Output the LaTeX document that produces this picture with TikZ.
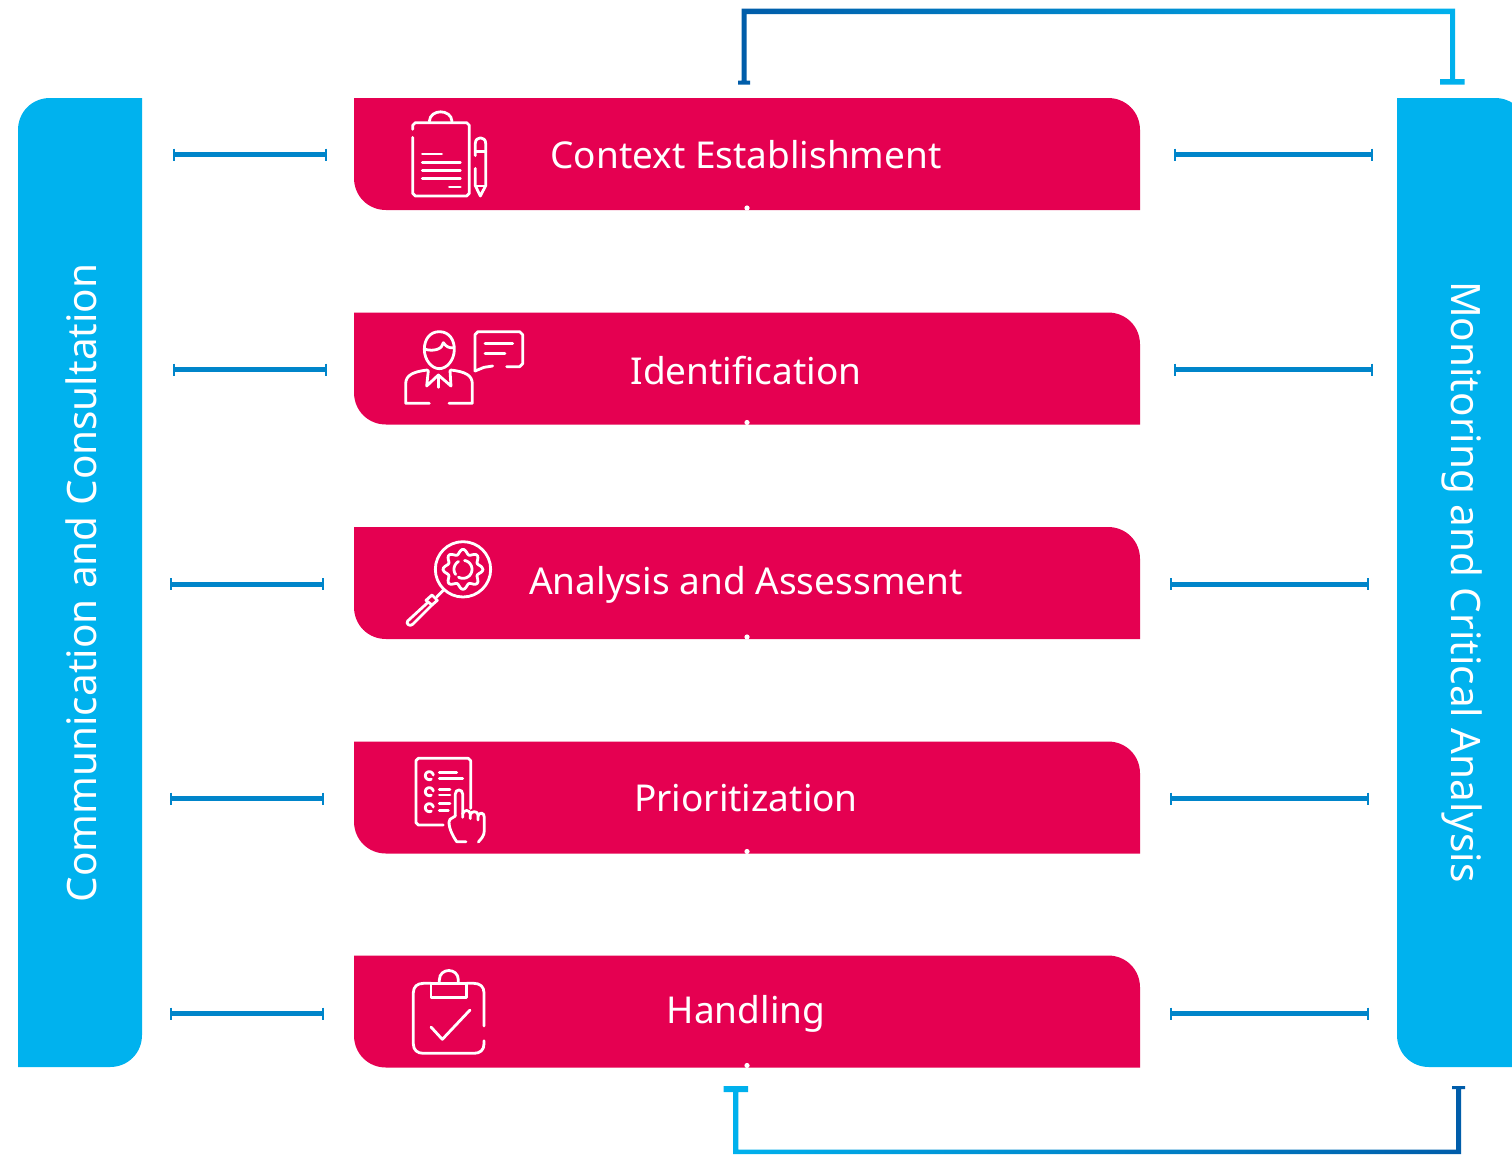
\documentclass[tikz,border=0pt]{standalone}
\usepackage{fontspec}
\setmainfont{Noto Sans}
\definecolor{barpink}{HTML}{E50051}
\definecolor{sidecyan}{HTML}{00B2EE}
\definecolor{linkblue}{HTML}{0085CA}
\definecolor{deepblue}{HTML}{005CA9}
\tikzset{
  pinkbarshape/.style={fill=barpink,draw=none},
  sideshape/.style={fill=sidecyan,draw=none},
  barlabel/.style={text=white,font=\fontsize{37}{37}\selectfont\bfseries,inner sep=0pt,anchor=center},
  sidelabel/.style={text=white,font=\fontsize{40.5}{40.5}\selectfont\bfseries,inner sep=0pt,anchor=center},
  linkline/.style={draw=linkblue,line width=5pt},
  linktick/.style={draw=linkblue,line width=2pt},
  iconline/.style={draw=white,line width=2.8pt,line cap=round,line join=round,fill=none},
  pics/pinkbar/.style={code={
    \path[pinkbarshape] (354,0) -- (1108,0) .. controls (1126,0) and (1140,14) .. (1140,32)
      -- (1140,112) -- (386,112) .. controls (368,112) and (354,98) .. (354,80) -- cycle;
    \path[fill=white] (747,110) circle[radius=2.6pt];
  }},
  pics/sidelink/.style n args={2}{code={
    \coordinate (-a) at (#1,0); \coordinate (-b) at (#2,0);
    \draw[linkline] (-a) -- (-b);
    \draw[linktick] ([yshift=6pt]-a) -- ([yshift=-6pt]-a);
    \draw[linktick] ([yshift=6pt]-b) -- ([yshift=-6pt]-b);
  }},
  zoomed/.style={x=0.33333pt,y=-0.33333pt}
}
\begin{document}
\begin{tikzpicture}[x=1pt,y=-1pt]
\useasboundingbox (0,0) rectangle (1512,1154);
\clip (0,0) rectangle (1512,1154);
\fill[white] (0,0) rectangle (1512,1154);

% side panels
\path[sideshape] (18,1067) -- (18,130) .. controls (18,112) and (32,98) .. (50,98)
  -- (142,98) -- (142,1035) .. controls (142,1053) and (128,1067) .. (110,1067) -- cycle;
\path[sideshape] (1397,98) -- (1495,98) .. controls (1513,98) and (1527,112) .. (1527,130)
  -- (1527,1067) -- (1429,1067) .. controls (1411,1067) and (1397,1053) .. (1397,1035) -- cycle;
\node[sidelabel,rotate=90] (comm) at (81,583) {Communication and Consultation};
\node[sidelabel,rotate=-90] (moni) at (1462,582) {Monitoring and Critical Analysis};

% pink bars
\pic at (0,98) {pinkbar};
\pic at (0,312.5) {pinkbar};
\pic at (0,527) {pinkbar};
\pic at (0,741.5) {pinkbar};
\pic at (0,955.5) {pinkbar};
\node[barlabel] (context) at (746,155) {Context Establishment};
\node[barlabel] (ident) at (746,370.5) {Identification};
\node[barlabel] (analysis) at (746,584.5) {Analysis and Assessment};
\node[barlabel] (prior) at (746,798.5) {Prioritization};
\node[barlabel] (handling) at (746,1013.5) {Handling};

% horizontal links
\pic (l1) at (0,154.5) {sidelink={173.5}{325.5}};
\pic (l2) at (0,369.5) {sidelink={173.5}{325.5}};
\pic (l3) at (0,584) {sidelink={171}{322.5}};
\pic (l4) at (0,798.5) {sidelink={171}{322.5}};
\pic (l5) at (0,1013.5) {sidelink={171}{322.5}};
\pic (r1) at (0,154.5) {sidelink={1174.5}{1372}};
\pic (r2) at (0,369.5) {sidelink={1174.5}{1372}};
\pic (r3) at (0,584) {sidelink={1170.5}{1368}};
\pic (r4) at (0,798.5) {sidelink={1170.5}{1368}};
\pic (r5) at (0,1013.5) {sidelink={1170.5}{1368}};

% feedback brackets
\shade[left color=deepblue,right color=sidecyan]
  (741.5,8.5) -- (1455,8.5) -- (1455,79) -- (1464.5,79) -- (1464.5,84.5) -- (1440,84.5) -- (1440,79)
  -- (1450,79) -- (1450,14) -- (746.5,14) -- (746.5,80.5) -- (750,80.5) -- (750,84.5) -- (738,84.5) -- (738,80.5) -- (741.5,80.5) -- cycle;
\shade[left color=sidecyan,right color=deepblue]
  (733,1154) -- (1461,1154) -- (1461,1089) -- (1465,1089) -- (1465,1086) -- (1452,1086) -- (1452,1089)
  -- (1456,1089) -- (1456,1149.5) -- (738.3,1149.5) -- (738.3,1092) -- (748,1092) -- (748,1086) -- (723.5,1086) -- (723.5,1092) -- (733,1092) -- cycle;

% icon 1
\begin{scope}[shift={(350,90)},zoomed]
\draw[iconline] (188,118) -- (188,106) -- (196,98) -- (350,98) -- (358,106) -- (358,310) -- (350,318) -- (196,318) -- (188,310) -- (188,142);
\draw[iconline] (238,94) .. controls (240,56) and (304,56) .. (306,94);
\foreach \a/\b/\c in {217/275/192,217/331/217,217/331/241,217/331/266,298/331/291}
  \draw[iconline] (\a,\c) -- (\b,\c);
\draw[iconline] (376,197) -- (376,160) .. controls (376,138) and (407,138) .. (407,160) -- (407,287) -- (391,318) -- (376,287) -- (376,235);
\draw[iconline] (376,185) -- (407,185);
\draw[iconline] (376,288) -- (407,288);
\end{scope}

% icon 2
\begin{scope}[shift={(350,310)},zoomed]
\draw[iconline] (268,65) .. controls (238,65) and (223,90) .. (223,118) .. controls (223,150) and (245,176) .. (268,176) .. controls (291,176) and (313,150) .. (313,118) .. controls (313,90) and (298,65) .. (268,65) -- cycle;
\draw[iconline] (226,118) .. controls (250,125) and (278,118) .. (280,98) .. controls (288,110) and (298,115) .. (310,113);
\draw[iconline] (238,280) -- (167,280) -- (167,222) .. controls (167,195) and (190,185) .. (232,180);
\draw[iconline] (297,280) -- (367,280) -- (367,222) .. controls (367,195) and (345,185) .. (302,180);
\draw[iconline] (235,182) -- (230,228) -- (265,195) -- (303,228) -- (300,182);
\draw[iconline] (265,195) -- (265,232);
\draw[iconline] (375,183) -- (375,74) -- (384,65) -- (509,65) -- (518,74) -- (518,161) -- (509,170) -- (470,170);
\draw[iconline] (428,168) -- (402,172) -- (375,183);
\draw[iconline] (405,100) -- (488,100);
\draw[iconline] (405,130) -- (465,130);
\end{scope}

% icon 3
\begin{scope}[shift={(350,525)},zoomed]
\draw[iconline] (339,133) ellipse[x radius=83,y radius=83];
\draw[iconline] plot[smooth cycle,domain=0:352,samples=72] ({339+(53+7*cos(8*\x))*cos(\x)},{133+(53+7*cos(8*\x))*sin(\x)});
\draw[iconline] plot[domain=-80:120,samples=24] ({339+27*cos(\x)},{133+27*sin(\x)});
\draw[iconline] plot[domain=145:240,samples=12] ({339+27*cos(\x)},{133+27*sin(\x)});
\draw[iconline] (281,195) -- (260,216);
\draw[iconline] (228,226) -- (246,210) -- (262,226) -- (246,240) -- cycle;
\draw[iconline] (234,232) -- (173,288) .. controls (166,296) and (180,306) .. (188,298) -- (246,240);
\end{scope}

% icon 4
\begin{scope}[shift={(350,740)},zoomed]
\draw[iconline] (280,255) -- (205,255) -- (198,248) -- (198,62) -- (205,55) -- (355,55) -- (362,62) -- (362,205);
\foreach \yy in {107,155,203}
  \draw[iconline] plot[domain=-60:230,samples=16] ({238-12*sin(\x+30)},{\yy+12*cos(\x+30)});
\foreach \a/\b/\c in {268/320/98,268/338/116,268/300/148,268/300/165,268/300/190,268/295/212}
  \draw[iconline] (\a,\c) -- (\b,\c);
\draw[iconline] (316,228) -- (316,162) .. controls (316,146) and (338,146) .. (338,162) -- (338,232);
\draw[iconline] (338,222) .. controls (340,208) and (360,208) .. (361,222) -- (361,236);
\draw[iconline] (361,224) .. controls (363,212) and (383,212) .. (384,224) -- (384,240);
\draw[iconline] (384,228) .. controls (388,216) and (403,216) .. (403,232) -- (403,272) .. controls (403,288) and (392,298) .. (385,306);
\draw[iconline] (316,228) -- (300,238) .. controls (294,244) and (296,270) .. (320,305) -- (348,305);
\end{scope}

% icon 5
\begin{scope}[shift={(350,950)},zoomed]
\draw[iconline] (402,228) -- (402,128) .. controls (402,110) and (390,100) .. (372,100) -- (350,100);
\draw[iconline] (243,100) -- (220,100) .. controls (202,100) and (190,110) .. (190,128) -- (190,282) .. controls (190,300) and (202,310) .. (220,310) -- (372,310) .. controls (390,310) and (402,300) .. (402,282) -- (402,272);
\draw[iconline] (243,100) -- (243,143) -- (350,143) -- (350,100) -- cycle;
\draw[iconline] (268,100) -- (268,90) .. controls (268,52) and (325,52) .. (325,90) -- (325,100);
\draw[iconline] (243,231) -- (277,268) -- (360,180);
\end{scope}
\end{tikzpicture}
\end{document}
